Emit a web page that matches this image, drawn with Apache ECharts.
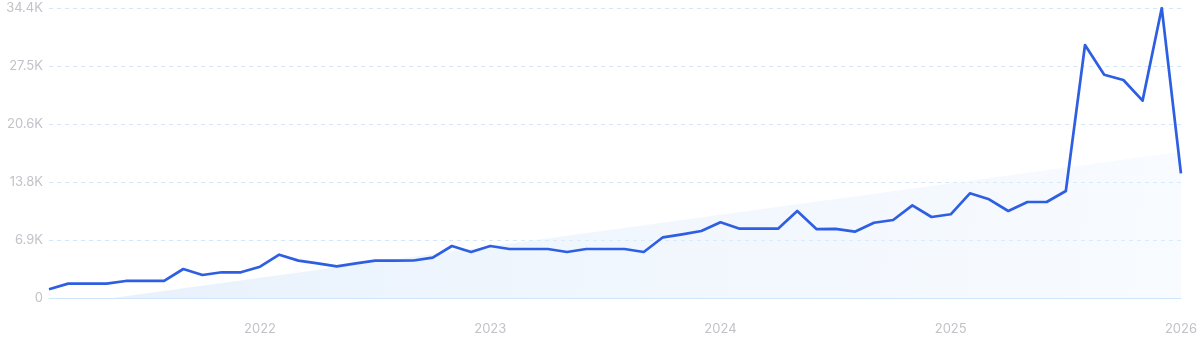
<!DOCTYPE html>
<html>
<head>
<meta charset="utf-8">
<script src="https://cdn.jsdelivr.net/npm/echarts@6/dist/echarts.min.js"></script>
<style>
  html, body { margin: 0; padding: 0; background: #ffffff; }
  #chart { width: 1200px; height: 343px; }
</style>
</head>
<body>
<div id="chart"></div>
<script>
const months = [
  '2021-02','2021-03','2021-04','2021-05','2021-06','2021-07','2021-08','2021-09','2021-10','2021-11','2021-12',
  '2022-01','2022-02','2022-03','2022-04','2022-05','2022-06','2022-07','2022-08','2022-09','2022-10','2022-11','2022-12',
  '2023-01','2023-02','2023-03','2023-04','2023-05','2023-06','2023-07','2023-08','2023-09','2023-10','2023-11','2023-12',
  '2024-01','2024-02','2024-03','2024-04','2024-05','2024-06','2024-07','2024-08','2024-09','2024-10','2024-11','2024-12',
  '2025-01','2025-02','2025-03','2025-04','2025-05','2025-06','2025-07','2025-08','2025-09','2025-10','2025-11','2025-12',
  '2026-01'
];
const searches = [
  1030, 1700, 1700, 1700, 2020, 2020, 2020, 3440, 2730, 3050, 3050,
  3710, 5140, 4430, 4110, 3760, 4110, 4430, 4430, 4450, 4780, 6170, 5460,
  6170, 5810, 5810, 5810, 5460, 5810, 5810, 5810, 5460, 7200, 7550, 7950,
  8980, 8220, 8220, 8220, 10320, 8180, 8200, 7870, 8930, 9250, 10990, 9610,
  9930, 12420, 11710, 10320, 11390, 11390, 12690, 30010, 26490, 25860, 23410, 34400,
  14790
];
const trendStart = -1030;
const trendEnd = 17350;
const yTicks = ['0', '6.9K', '13.8K', '20.6K', '27.5K', '34.4K'];
const yMax = 34400;
const yStep = 6880;

const chart = echarts.init(document.getElementById('chart'), null, { renderer: 'canvas' });
chart.setOption({
  animation: false,
  backgroundColor: '#ffffff',
  grid: { left: 49, right: 18, top: 8, bottom: 45, containLabel: false },
  xAxis: {
    type: 'category',
    data: months,
    boundaryGap: false,
    axisLine: { show: true, lineStyle: { color: '#cfe5fb', width: 1 } },
    axisTick: { show: false },
    splitLine: { show: false },
    axisLabel: {
      interval: function (i, v) { return v.slice(5) === '01'; },
      formatter: function (v) { return v.slice(0, 4); },
      color: '#c2c2c8',
      fontSize: 13,
      fontFamily: 'Inter, "Noto Sans", sans-serif',
      margin: 25,
      showMinLabel: true,
      showMaxLabel: true
    }
  },
  yAxis: {
    type: 'value',
    min: 0,
    max: yMax,
    interval: yStep,
    axisLine: { show: false },
    axisTick: { show: false },
    splitLine: { show: true, lineStyle: { color: '#d3e7fa', type: [4, 4], width: 1 } },
    axisLabel: {
      color: '#c2c2c8',
      fontSize: 13,
      fontFamily: 'Inter, "Noto Sans", sans-serif',
      margin: 6,
      formatter: function (v) { return yTicks[Math.round(v / yStep)]; }
    }
  },
  series: [
    {
      type: 'line',
      data: [[0, trendStart], [months.length - 1, trendEnd]],
      symbol: 'none',
      silent: true,
      lineStyle: { width: 0, opacity: 0 },
      areaStyle: {
        color: new echarts.graphic.LinearGradient(0, 0, 1, 0.7, [
          { offset: 0, color: 'rgba(214,231,250,0.85)' },
          { offset: 1, color: 'rgba(236,244,254,0.55)' }
        ])
      },
      z: 1
    },
    {
      type: 'line',
      data: searches,
      symbol: 'none',
      lineStyle: { color: '#2e5fe3', width: 2.7, join: 'round' },
      z: 3
    }
  ]
});
</script>
</body>
</html>
